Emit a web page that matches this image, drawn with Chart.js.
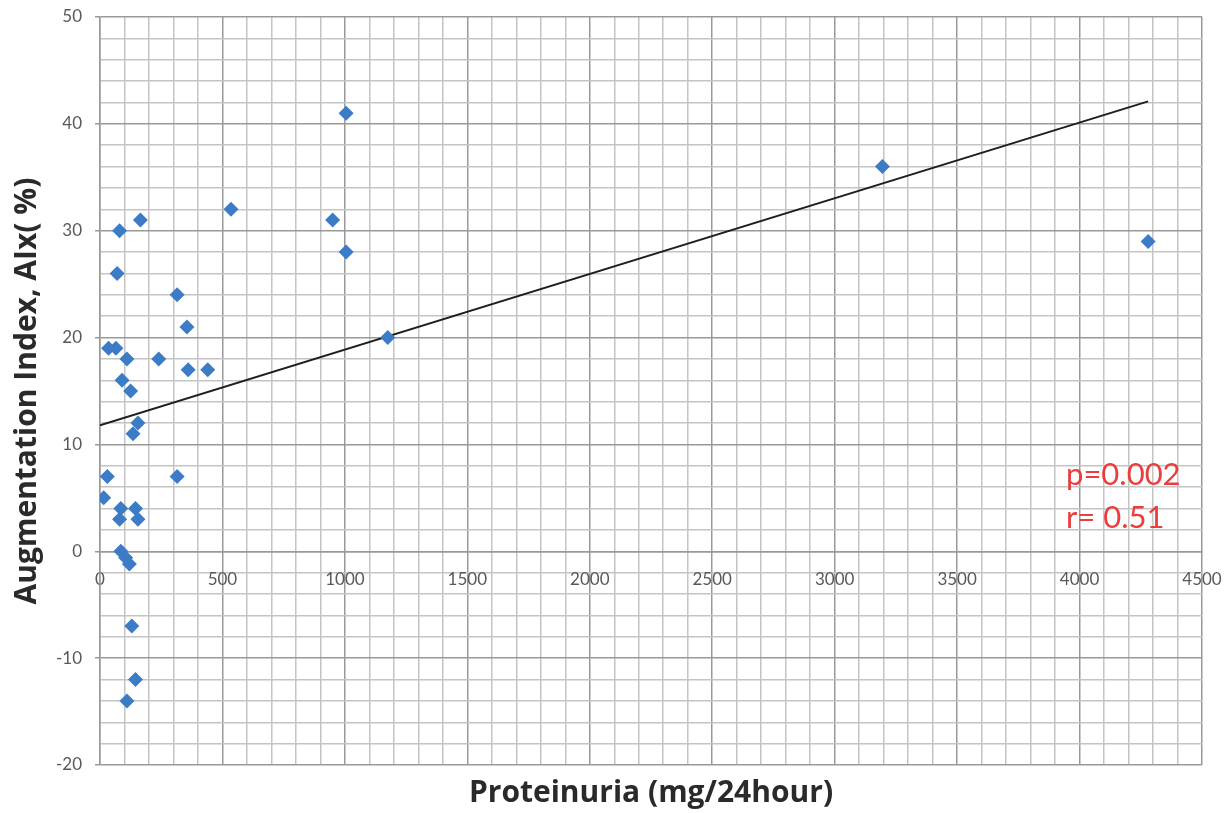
<!DOCTYPE html>
<html>
<head>
<meta charset="utf-8">
<title>AIx vs Proteinuria</title>
<script src="https://cdn.jsdelivr.net/npm/chart.js@4.4.1/dist/chart.umd.min.js"></script>
<style>
  html, body { margin: 0; padding: 0; background: #ffffff; }
  #wrap { width: 1229px; height: 813px; position: relative; }
</style>
</head>
<body>
<div id="wrap"><canvas id="aixChart"></canvas></div>
<script>
// Proteinuria (mg/24hour) and augmentation index (%) for each patient
const proteinuria = [1005, 3195, 4280, 535, 950, 1005, 1175,
  165, 80, 70, 315, 355, 35, 65, 110, 240, 360, 440, 90, 125, 155, 135,
  30, 315, 15, 85, 145, 80, 155, 85, 105, 120, 130, 145, 110];
const aix = [41, 36, 29, 32, 31, 28, 20,
  31, 30, 26, 24, 21, 19, 19, 18, 18, 17, 17, 16, 15, 12, 11,
  7, 7, 5, 4, 4, 3, 3, 0, -0.6, -1.2, -7, -12, -14];

// linear trend line (end points)
const trendX = [0, 4280];
const trendY = [11.8, 42.1];

// axis ranges and label steps
const xRange = [0, 4500];
const yRange = [-20, 50];
const xLabelStep = 500;
const yLabelStep = 10;

const statsText = ['p=0.002', 'r= 0.51'];

const MAJOR = '#999999';
const MINOR = '#c4c4c4';
const TITLE_FONT = { family: '"Open Sans", Lato, sans-serif', size: 30, weight: 'bold' };

Chart.defaults.font.family = 'Lato, "Open Sans", sans-serif';

// red p / r text in the lower right
const statsLabel = {
  id: 'statsLabel',
  afterDraw(chart) {
    const c = chart.ctx;
    c.save();
    c.fillStyle = '#ec3d3d';
    c.font = '31px Lato, "Open Sans", sans-serif';
    c.textAlign = 'left';
    c.textBaseline = 'middle';
    c.fillText(statsText[0], 1066, 475);
    c.fillText(statsText[1], 1066, 518);
    c.restore();
  }
};

const isMajor = (v, step) => Math.round(v) % step === 0;

new Chart(document.getElementById('aixChart'), {
  type: 'scatter',
  data: {
    datasets: [{
      label: 'AIx',
      data: proteinuria.map((x, i) => ({ x: x, y: aix[i] })),
      pointStyle: 'rectRot',
      pointRadius: 7.5,
      pointHoverRadius: 7.5,
      backgroundColor: '#3c7cc6',
      borderColor: '#3c7cc6',
      borderWidth: 0
    }, {
      label: 'trend',
      data: trendX.map((x, i) => ({ x: x, y: trendY[i] })),
      showLine: true,
      pointRadius: 0,
      borderColor: '#1e1e1e',
      borderWidth: 2
    }]
  },
  options: {
    responsive: true,
    maintainAspectRatio: false,
    animation: false,
    layout: { padding: { top: 17, right: 27, left: 0, bottom: 0 } },
    plugins: {
      legend: { display: false },
      tooltip: { enabled: false },
      title: {
        display: true,
        position: 'bottom',
        fullSize: false,
        text: 'Proteinuria (mg/24hour)',
        color: '#2a2a2a',
        font: TITLE_FONT,
        padding: { top: 10, bottom: 2 }
      }
    },
    scales: {
      x: {
        type: 'linear',
        position: { y: 0 },
        min: xRange[0],
        max: xRange[1],
        afterFit: (s) => { s.paddingLeft = 0; s.paddingRight = 0; },
        ticks: {
          stepSize: 100,
          autoSkip: false,
          maxRotation: 0,
          padding: 18,
          color: '#595959',
          font: { size: 17 },
          callback: (v) => isMajor(v, xLabelStep) ? String(Math.round(v)) : ''
        },
        grid: {
          drawTicks: false,
          lineWidth: 1.5,
          color: (c) => c.tick && isMajor(c.tick.value, xLabelStep) ? MAJOR : MINOR
        },
        border: { color: MAJOR, width: 1.5 }
      },
      y: {
        type: 'linear',
        position: 'left',
        min: yRange[0],
        max: yRange[1],
        afterFit: (s) => { s.width = 100; s.paddingTop = 0; s.paddingBottom = 0; },
        title: {
          display: true,
          text: 'Augmentation Index, AIx( %)',
          color: '#2a2a2a',
          font: TITLE_FONT,
          padding: { top: 9, bottom: 0 }
        },
        ticks: {
          stepSize: 2,
          autoSkip: false,
          padding: 13,
          color: '#595959',
          font: { size: 17 },
          callback: (v) => isMajor(v, yLabelStep) ? String(Math.round(v)) : ''
        },
        grid: {
          tickLength: 5,
          lineWidth: 1.5,
          color: (c) => c.tick && isMajor(c.tick.value, yLabelStep) ? MAJOR : MINOR,
          tickColor: (c) => c.tick && isMajor(c.tick.value, yLabelStep) ? MAJOR : 'rgba(0,0,0,0)'
        },
        border: { color: MAJOR, width: 1.5 }
      }
    }
  },
  plugins: [statsLabel]
});
</script>
</body>
</html>
